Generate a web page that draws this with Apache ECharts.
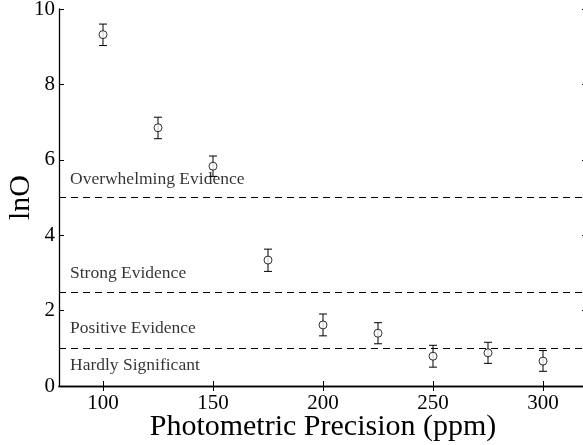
<!DOCTYPE html>
<html>
<head>
<meta charset="utf-8">
<script src="https://cdn.jsdelivr.net/npm/echarts@6/dist/echarts.min.js"></script>
<style>html,body{margin:0;padding:0;background:#fff}#c{width:583px;height:445px}</style>
</head>
<body>
<div id="c"></div>
<script>
var precision = [100, 125, 150, 175, 200, 225, 250, 275, 300];
var lnO = [9.32, 6.85, 5.83, 3.34, 1.62, 1.40, 0.79, 0.88, 0.66];
var errLow = [9.03, 6.56, 5.56, 3.04, 1.33, 1.12, 0.50, 0.60, 0.39];
var errHigh = [9.60, 7.13, 6.10, 3.63, 1.91, 1.68, 1.08, 1.16, 0.94];
var thresholds = [5, 2.5, 1];
var zoneLabels = ['Overwhelming Evidence', 'Strong Evidence', 'Positive Evidence', 'Hardly Significant'];
var zoneLabelY = [5.25, 2.76, 1.29, 0.31];
var zoneLabelX = 85;
var xTicks = [100, 150, 200, 250, 300];
var yTicks = [0, 2, 4, 6, 8, 10];

var FONT = 'Liberation Serif';
var chart = echarts.init(document.getElementById('c'));

var pts = precision.map(function (x, i) { return [x, lnO[i]]; });
var errs = precision.map(function (x, i) { return [x, errLow[i], errHigh[i]]; });
var labs = zoneLabels.map(function (t, i) { return { name: t, value: [zoneLabelX, zoneLabelY[i]] }; });

var axisLine = { show: true, lineStyle: { color: '#000', width: 1.3 } };
function tickIn(vals) { return { show: true, inside: true, length: 5, customValues: vals, lineStyle: { color: '#000', width: 1 } }; }
function isTick(vals, v) { return vals.indexOf(Math.round(Number(v))) >= 0; }
function only(vals) { return function (v) { return isTick(vals, v) ? String(Math.round(Number(v))) : ''; }; }
function colorOnly(vals) { return function (v) { return isTick(vals, v) ? '#000' : 'rgba(0,0,0,0)'; }; }

chart.setOption({
  animation: false,
  backgroundColor: '#fff',
  grid: { left: 59, right: -4, top: 9, bottom: 59, containLabel: false, outerBoundsMode: 'none' },
  xAxis: [{
    type: 'value', min: 80, max: 320, interval: 10,
    axisLine: axisLine, axisTick: tickIn(xTicks), splitLine: { show: false },
    axisLabel: { color: colorOnly(xTicks), fontFamily: FONT, fontSize: 21, margin: 7, formatter: only(xTicks), hideOverlap: false, showMinLabel: false, showMaxLabel: false },
    name: 'Photometric Precision (ppm)', nameLocation: 'middle', nameGap: 26, nameMoveOverlap: false,
    nameTextStyle: { color: '#000', fontFamily: FONT, fontSize: 30 }
  }, {
    type: 'value', position: 'top', min: 80, max: 320, interval: 10,
    axisLine: axisLine, axisTick: tickIn(xTicks), axisLabel: { show: false }, splitLine: { show: false }
  }],
  yAxis: [{
    type: 'value', min: 0, max: 10, interval: 2,
    axisLine: axisLine, axisTick: tickIn(yTicks), splitLine: { show: false },
    axisLabel: { color: '#000', fontFamily: FONT, fontSize: 21, margin: 4, formatter: only(yTicks) },
    name: 'lnO', nameLocation: 'middle', nameGap: 23, nameMoveOverlap: false,
    nameTextStyle: { color: '#000', fontFamily: FONT, fontSize: 30 }
  }, {
    type: 'value', position: 'right', min: 0, max: 10, interval: 2,
    axisLine: axisLine, axisTick: tickIn(yTicks), axisLabel: { show: false }, splitLine: { show: false }
  }],
  series: [{
    type: 'custom',
    data: errs,
    renderItem: function (params, api) {
      var x = api.value(0);
      var lo = api.coord([x, api.value(1)]);
      var hi = api.coord([x, api.value(2)]);
      var w = 4;
      var st = { stroke: '#000', lineWidth: 1, fill: null };
      return { type: 'group', children: [
        { type: 'line', shape: { x1: lo[0], y1: lo[1], x2: hi[0], y2: hi[1] }, style: st },
        { type: 'line', shape: { x1: lo[0] - w, y1: lo[1], x2: lo[0] + w, y2: lo[1] }, style: st },
        { type: 'line', shape: { x1: hi[0] - w, y1: hi[1], x2: hi[0] + w, y2: hi[1] }, style: st }
      ] };
    },
    z: 2
  }, {
    type: 'scatter',
    data: pts,
    symbol: 'circle', symbolSize: 8,
    itemStyle: { color: '#fff', borderColor: '#000', borderWidth: 1 },
    z: 3,
    markLine: {
      silent: true, symbol: 'none', label: { show: false },
      lineStyle: { color: '#000', type: [7, 5], width: 1 },
      data: thresholds.map(function (t) { return { yAxis: t }; })
    }
  }, {
    type: 'scatter',
    data: labs,
    symbolSize: 0,
    silent: true,
    label: {
      show: true, position: [0, 0], align: 'left', verticalAlign: 'bottom',
      formatter: function (p) { return p.name; },
      color: '#000', fontFamily: FONT, fontSize: 17.5
    }
  }]
});
</script>
</body>
</html>
